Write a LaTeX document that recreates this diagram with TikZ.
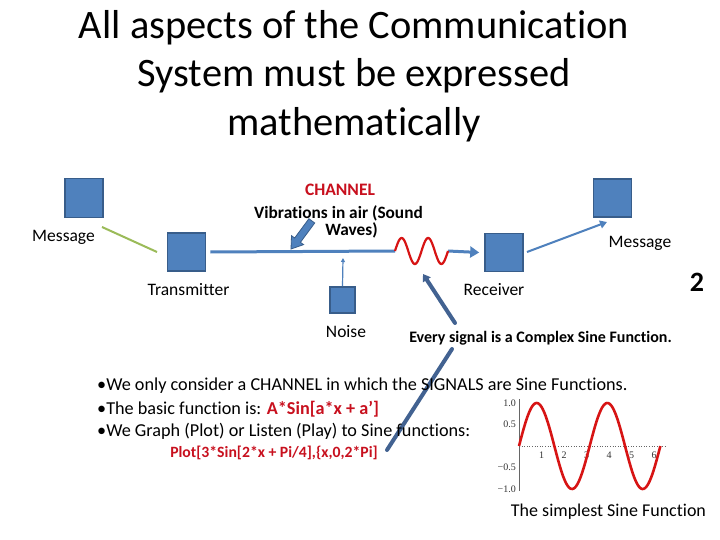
\documentclass[tikz,border=0pt]{standalone}
\usepackage{fontspec}
\setmainfont{Carlito}[Ligatures={NoCommon}]
\newfontfamily\plotfont{Liberation Serif}
\usetikzlibrary{arrows.meta}
\definecolor{boxblue}{RGB}{79,129,189}
\definecolor{boxedge}{RGB}{56,93,138}
\definecolor{lineblue}{RGB}{79,129,189}
\definecolor{darkline}{RGB}{66,98,145}
\definecolor{olive}{RGB}{155,187,89}
\definecolor{txtred}{RGB}{200,16,30}
\definecolor{wavered}{RGB}{215,20,20}
\tikzset{
  sq/.style={draw=boxedge, fill=boxblue, line width=1.6pt, inner sep=0pt},
  lbl/.style={font=\fontsize{17.5}{20}\selectfont, inner sep=0pt},
  chan/.style={line width=3pt, draw=lineblue},
  thick dark/.style={line width=4pt, draw=darkline, line cap=round},
  blockarrow/.style={draw=boxedge, fill=boxblue, line width=0.8pt, line join=miter},
  bullet/.style={anchor=west, font=\fontsize{18.2}{21}\selectfont, inner sep=0pt},
  ticklbl/.style={font=\plotfont\fontsize{10}{11}\selectfont, inner sep=0pt, text=black!80}
}
\begin{document}
\begin{tikzpicture}[x=1pt,y=-1pt]
\useasboundingbox (0,0) rectangle (720,540);
\fill[white] (0,0) rectangle (720,540);

% title
\node[align=center, font=\fontsize{40.4}{48.5}\selectfont, inner sep=0pt] (title) at (354,76)
  {All aspects of the Communication\\System must be expressed\\mathematically};

% boxes
\node[sq, minimum width=38pt, minimum height=39pt] (msg1) at (84,198) {};
\node[lbl] (msg1l) at (63.5,237) {Message};
\node[sq, minimum width=38pt, minimum height=38pt] (tx) at (186.5,252) {};
\node[lbl] (txl) at (188.5,290) {Transmitter};
\node[sq, minimum width=38pt, minimum height=38pt] (rx) at (504,252.5) {};
\node[lbl] (rxl) at (494,290) {Receiver};
\node[sq, minimum width=38pt, minimum height=38pt] (msg2) at (612.5,198) {};
\node[lbl] (msg2l) at (640,243) {Message};
\node[sq, minimum width=25pt, minimum height=26pt] (noise) at (342.5,300) {};
\node[lbl] (noisel) at (346,332) {Noise};

% channel text
\node[font=\bfseries\fontsize{17.5}{20}\selectfont, text=txtred, inner sep=0pt] (chl) at (340,190) {CHANNEL};
\node[font=\bfseries\fontsize{17.3}{20}\selectfont, inner sep=0pt] (vib1) at (338.5,213) {Vibrations in air (Sound};
\node[font=\bfseries\fontsize{17.3}{20}\selectfont, inner sep=0pt] (vib2) at (351.5,230) {Waves)};

% coordinates
\coordinate (g1) at (102,227);
\coordinate (g2) at (157,252);
\coordinate (w0) at (395,251);
\coordinate (w1) at (448,251);
\coordinate (r1) at (527,252);
\coordinate (r2) at (607,222);
\coordinate (n2) at (343,258);
\coordinate (a1s) at (455,323);
\coordinate (a1e) at (423,274);
\coordinate (l2s) at (452,349);
\coordinate (l2e) at (387,450);
\coordinate (bat) at (291,249);

% connectors
\draw[olive, line width=2pt] (g1) -- (g2);
\draw[chan] ([xshift=4pt]tx.east) -- (w0);
\draw[chan, -{Triangle[length=9pt,width=11pt]}] (w1) -- ([xshift=-5pt]rx.west);
\draw[wavered, line width=2.2pt] plot[domain=0:53, samples=80] ({395+\x},{251-13*sin(\x*13.585)});
\draw[lineblue, line width=2pt, -{Triangle[length=7pt,width=8pt]}] (r1) -- (r2);
\draw[lineblue, line width=1.2pt, -{Triangle[length=4pt,width=4pt]}] (noise.north) -- (n2);
\begin{scope}[shift={(bat)}, rotate=53.5]
  \draw[blockarrow] (0,0) -- (11,7.5) -- (11,3.6) -- (35,3.6) -- (35,-3.6) -- (11,-3.6) -- (11,-7.5) -- cycle;
\end{scope}
\draw[thick dark, -{Triangle[length=7pt,width=9pt]}] (a1s) -- (a1e);
\draw[thick dark] (l2s) -- (l2e);

% number
\node[font=\bfseries\fontsize{28}{32}\selectfont, inner sep=0pt] (num) at (697,282) {2};

% every signal
\node[font=\bfseries\fontsize{16}{19}\selectfont, inner sep=1pt, fill=white] (every) at (540.5,338) {Every signal is a Complex Sine Function.};

% bullets
\node[bullet] (b1) at (97,386) {\textbullet We only consider a CHANNEL in which the SIGNALS are Sine Functions.};
\node[bullet] (b2) at (97,409) {\textbullet The basic function is: {\bfseries\color{txtred}A*Sin[a*x + a’]}};
\node[bullet] (b3) at (97,431) {\textbullet We Graph (Plot) or Listen (Play) to Sine functions:};
\node[font=\bfseries\fontsize{15.7}{18}\selectfont, text=txtred, inner sep=0pt] (plotcmd) at (274,453) {Plot[3*Sin[2*x + Pi/4],\{x,0,2*Pi]};

% small plot
\draw[black!60, line width=0.5pt] (519,399) -- (519,491);
\draw[black!60, line width=0.6pt, dotted] (519,446) -- (666,446);
\node[ticklbl, anchor=east] (y1) at (516,403) {1.0};
\node[ticklbl, anchor=east] (y2) at (516,424.5) {0.5};
\node[ticklbl, anchor=east] (y3) at (516,467.5) {−0.5};
\node[ticklbl, anchor=east] (y4) at (516,489) {−1.0};
\foreach \k in {1,...,6} {
  \node[ticklbl] (xt\k) at ({519+22.5*\k},455) {\k};
}
\draw[wavered, line width=2.6pt] plot[domain=0:6.2832, samples=120] ({519+22.5*\x},{446-43*sin(2*\x r)});
\node[font=\fontsize{18}{21}\selectfont, inner sep=0pt] (cap) at (608.5,512) {The simplest Sine Function};
\end{tikzpicture}
\end{document}
